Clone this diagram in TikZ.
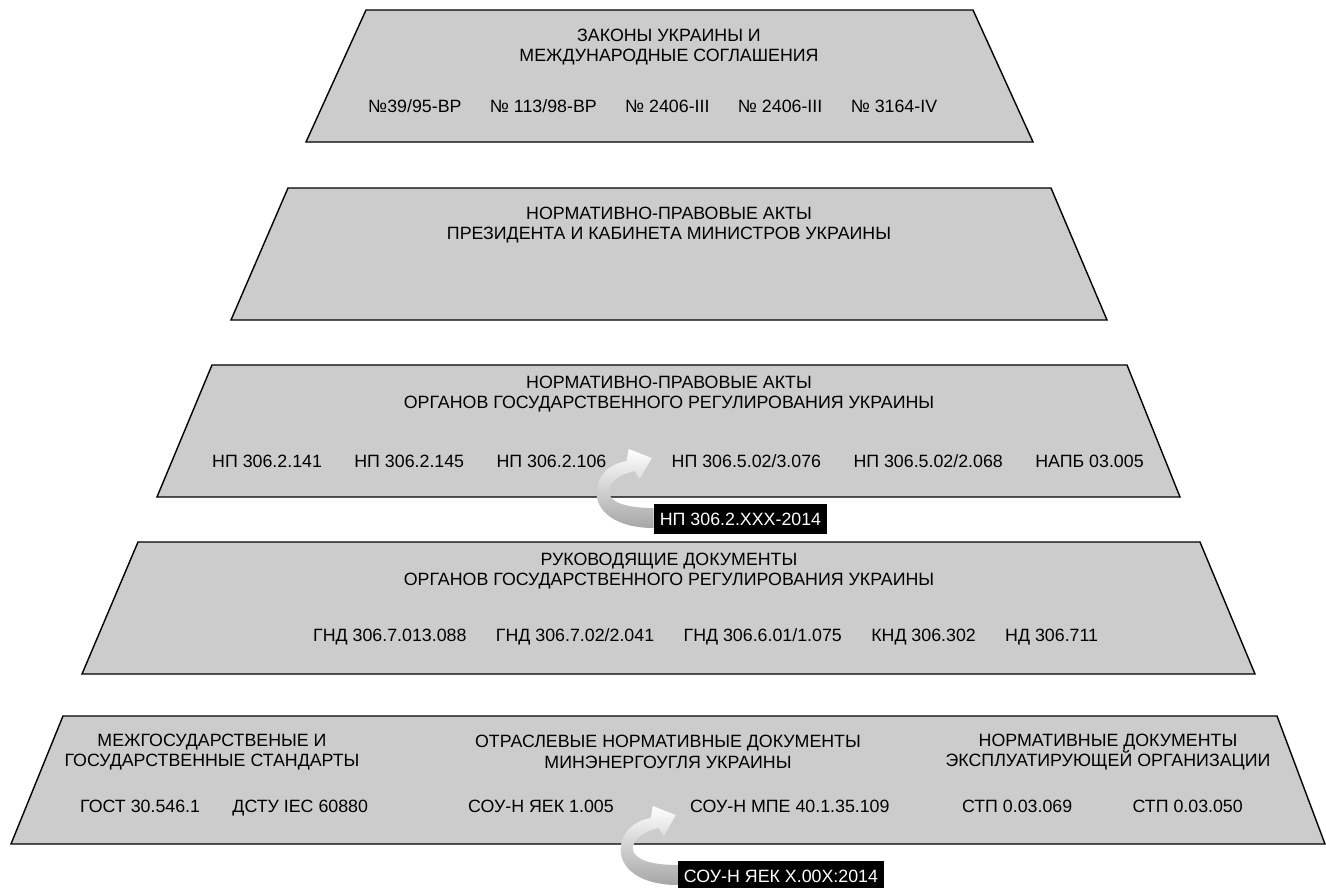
\documentclass[tikz,border=0pt]{standalone}
\usepackage{fontspec}
\setmainfont{Liberation Sans}
\usetikzlibrary{positioning}

\begin{document}
\begin{tikzpicture}[x=1pt,y=-1pt,node distance=32pt,
  layer/.style={draw=black,line width=1.4pt,fill=black!20},
  title/.style={align=center,inner sep=0pt,font=\fontsize{17.8}{20.5}\selectfont},
  doc/.style={inner sep=0pt,font=\fontsize{17.8}{20.5}\selectfont},
  newtag/.style={fill=black,text=white,inner xsep=6pt,minimum height=30pt,
    font=\fontsize{17.8}{20.5}\selectfont},
  bend arrow/.style={top color=white,middle color=white,bottom color=black!35}]

  \useasboundingbox (0,0) rectangle (1326,887);

  % layers of the pyramid
  \draw[layer] (366,10) -- (973,10) -- (1033,142) -- (306,142) -- cycle;
  \draw[layer] (288,188) -- (1051,188) -- (1107,320) -- (231,320) -- cycle;
  \draw[layer] (212,365) -- (1127,365) -- (1180,497) -- (157,497) -- cycle;
  \draw[layer] (138,542) -- (1200,542) -- (1255,674) -- (82,674) -- cycle;
  \draw[layer] (63,716) -- (1277,716) -- (1325,844) -- (11,844) -- cycle;

  % laws
  \node[title] (laws) at (669,47) {ЗАКОНЫ УКРАИНЫ И\\МЕЖДУНАРОДНЫЕ СОГЛАШЕНИЯ};
  \node[doc,anchor=base west] (law1) at (368,112) {№39/95-ВР};
  \node[doc,base right=28pt of law1] (law2) {№ 113/98-ВР};
  \node[doc,base right=28pt of law2] (law3) {№ 2406-III};
  \node[doc,base right=28pt of law3] (law4) {№ 2406-III};
  \node[doc,base right=28pt of law4] (law5) {№ 3164-IV};

  % president and cabinet
  \node[title] (pres) at (669,225) {НОРМАТИВНО-ПРАВОВЫЕ АКТЫ\\ПРЕЗИДЕНТА И КАБИНЕТА МИНИСТРОВ УКРАИНЫ};

  % regulator acts
  \node[title] (acts) at (669,394) {НОРМАТИВНО-ПРАВОВЫЕ АКТЫ\\ОРГАНОВ ГОСУДАРСТВЕННОГО РЕГУЛИРОВАНИЯ УКРАИНЫ};
  \node[doc,anchor=base west] (np1) at (212,467) {НП 306.2.141};
  \node[doc,base right=of np1] (np2) {НП 306.2.145};
  \node[doc,base right=of np2] (np3) {НП 306.2.106};
  \node[doc,base right=65pt of np3] (np4) {НП 306.5.02/3.076};
  \node[doc,base right=of np4] (np5) {НП 306.5.02/2.068};
  \node[doc,base right=of np5] (np6) {НАПБ 03.005};

  % guidance documents
  \node[title] (guide) at (669,571) {РУКОВОДЯЩИЕ ДОКУМЕНТЫ\\ОРГАНОВ ГОСУДАРСТВЕННОГО РЕГУЛИРОВАНИЯ УКРАИНЫ};
  \node[doc,anchor=base west] (gnd1) at (313,641) {ГНД 306.7.013.088};
  \node[doc,base right=29pt of gnd1] (gnd2) {ГНД 306.7.02/2.041};
  \node[doc,base right=29pt of gnd2] (gnd3) {ГНД 306.6.01/1.075};
  \node[doc,base right=29pt of gnd3] (knd) {КНД 306.302};
  \node[doc,base right=29pt of knd] (nd) {НД 306.711};

  % standards
  \node[title] (std) at (212,752) {МЕЖГОСУДАРСТВЕНЫЕ И\\ГОСУДАРСТВЕННЫЕ СТАНДАРТЫ};
  \node[title] (branch) at (668,752) {ОТРАСЛЕВЫЕ НОРМАТИВНЫЕ ДОКУМЕНТЫ\\МИНЭНЕРГОУГЛЯ УКРАИНЫ};
  \node[title] (oper) at (1108,752) {НОРМАТИВНЫЕ ДОКУМЕНТЫ\\ЭКСПЛУАТИРУЮЩЕЙ ОРГАНИЗАЦИИ};
  \node[doc,anchor=base west] (gost) at (80,812) {ГОСТ 30.546.1};
  \node[doc,base right=of gost] (dstu) {ДСТУ IEC 60880};
  \node[doc,anchor=base west] (sou1) at (468,812) {СОУ-Н ЯЕК 1.005};
  \node[doc,base right=76pt of sou1] (sou2) {СОУ-Н МПЕ 40.1.35.109};
  \node[doc,anchor=base east] (stp2) at (1243,812) {СТП 0.03.050};
  \node[doc,base left=60pt of stp2] (stp1) {СТП 0.03.069};

  % new documents
  \node[newtag] (npnew) at (740.5,519) {НП 306.2.XXX-2014};
  \node[newtag] (sounew) at (781,876) {СОУ-Н ЯЕК Х.00Х:2014};

  \shade[bend arrow,shift={(npnew.west)}]
    (0,9) .. controls (-38,9) and (-59,-8) .. (-57,-29)
    .. controls (-55,-45) and (-44,-55) .. (-27,-58) -- (-25,-70) -- (-2,-61)
    -- (-14,-40) -- (-19,-48) .. controls (-33,-45) and (-44,-38) .. (-45,-28)
    .. controls (-45,-17) and (-28,-11) .. (0,-11) -- cycle;
  \shade[bend arrow,shift={(sounew.west)}]
    (0,9) .. controls (-38,9) and (-59,-8) .. (-57,-29)
    .. controls (-55,-45) and (-44,-55) .. (-27,-58) -- (-25,-70) -- (-2,-61)
    -- (-14,-40) -- (-19,-48) .. controls (-33,-45) and (-44,-38) .. (-45,-28)
    .. controls (-45,-17) and (-28,-11) .. (0,-11) -- cycle;
  \node[newtag] at (npnew) {НП 306.2.XXX-2014};
  \node[newtag] at (sounew) {СОУ-Н ЯЕК Х.00Х:2014};

\end{tikzpicture}
\end{document}
